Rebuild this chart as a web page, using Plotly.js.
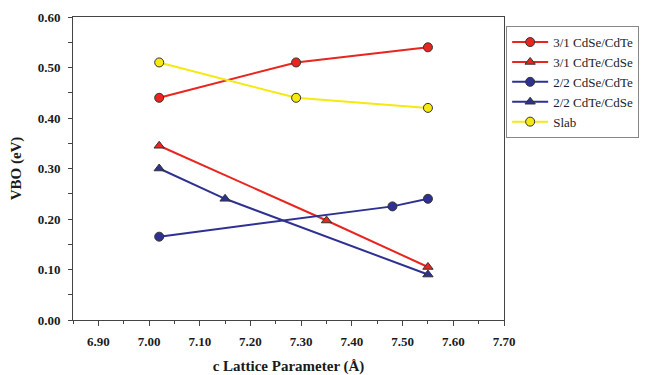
<!DOCTYPE html>
<html>
<head>
<meta charset="utf-8">
<script src="https://cdn.plot.ly/plotly-3.0.1.min.js"></script>
<style>html,body{margin:0;padding:0;background:#fff;}#chart{width:648px;height:375px;}</style>
</head>
<body>
<div id="chart"></div>
<script>
// Data
const names = ["3/1 CdSe/CdTe", "3/1 CdTe/CdSe", "2/2 CdSe/CdTe", "2/2 CdTe/CdSe", "Slab"];
const x31SeTe = [7.02, 7.29, 7.55];
const y31SeTe = [0.44, 0.51, 0.54];
const x31TeSe = [7.02, 7.35, 7.55];
const y31TeSe = [0.345, 0.197, 0.105];
const x22SeTe = [7.02, 7.48, 7.55];
const y22SeTe = [0.165, 0.225, 0.24];
const x22TeSe = [7.02, 7.15, 7.55];
const y22TeSe = [0.30, 0.24, 0.09];
const xSlab = [7.02, 7.29, 7.55];
const ySlab = [0.51, 0.44, 0.42];

const RED = "#e8251f", BLUE = "#2e3192", YEL = "#f5e90f", EDGE = "#333333";
function tr(name, x, y, lc, mc, sym) {
  return {
    type: "scatter", mode: "lines+markers", name: name, x: x, y: y,
    line: {color: lc, width: 2},
    marker: {color: mc, size: 9, symbol: sym, line: {color: EDGE, width: 1}}
  };
}
const data = [
  tr(names[0], x31SeTe, y31SeTe, RED, RED, "circle"),
  tr(names[1], x31TeSe, y31TeSe, RED, RED, "triangle-up"),
  tr(names[2], x22SeTe, y22SeTe, BLUE, BLUE, "circle"),
  tr(names[3], x22TeSe, y22TeSe, BLUE, BLUE, "triangle-up"),
  tr(names[4], xSlab, ySlab, YEL, YEL, "circle")
];
const FONT = "'Liberation Serif', 'Times New Roman', Times, serif";
const layout = {
  width: 648, height: 375,
  margin: {l: 73, r: 144, t: 17, b: 55, autoexpand: false},
  paper_bgcolor: "#fff", plot_bgcolor: "#fff",
  font: {family: FONT, color: "#222", size: 12},
  showlegend: true,
  legend: {
    x: 1.005, y: 0.97, xanchor: "left", yanchor: "top",
    bordercolor: "#888", borderwidth: 1, bgcolor: "#fff",
    font: {family: FONT, size: 13, color: "#222"},
    itemwidth: 36,
    entrywidth: 145, entrywidthmode: "pixels",
    tracegroupgap: 0
  },
  xaxis: {
    range: [6.85, 7.70], tick0: 6.9, dtick: 0.1, tickformat: ".2f",
    showgrid: false, zeroline: false, showline: true, mirror: true,
    linecolor: "#444", linewidth: 1, automargin: false,
    ticks: "outside", ticklen: 5, tickcolor: "#444",
    ticklabelstandoff: 4,
    minor: {dtick: 0.05, tick0: 6.85, ticklen: 3, tickcolor: "#444", ticks: "outside", showgrid: false},
    tickfont: {family: FONT, size: 13, color: "#1a1a1a", weight: "bold"},
    title: {text: "<b>c Lattice Parameter (Å)</b>", font: {family: FONT, size: 15, color: "#1a1a1a"}, standoff: 14}
  },
  yaxis: {
    range: [0, 0.6], dtick: 0.1, tickformat: ".2f",
    showgrid: false, zeroline: false, showline: true, mirror: true,
    linecolor: "#444", linewidth: 1, automargin: false,
    ticks: "outside", ticklen: 4, tickcolor: "#444",
    ticklabelstandoff: 5,
    minor: {dtick: 0.05, ticklen: 4, tickcolor: "#444", ticks: "outside", showgrid: false},
    tickfont: {family: FONT, size: 13, color: "#1a1a1a", weight: "bold"},
    title: {text: "<b>VBO (eV)</b>", font: {family: FONT, size: 15, color: "#1a1a1a"}, standoff: 12}
  }
};
Plotly.newPlot("chart", data, layout, {displayModeBar: false, staticPlot: true});
</script>
</body>
</html>
